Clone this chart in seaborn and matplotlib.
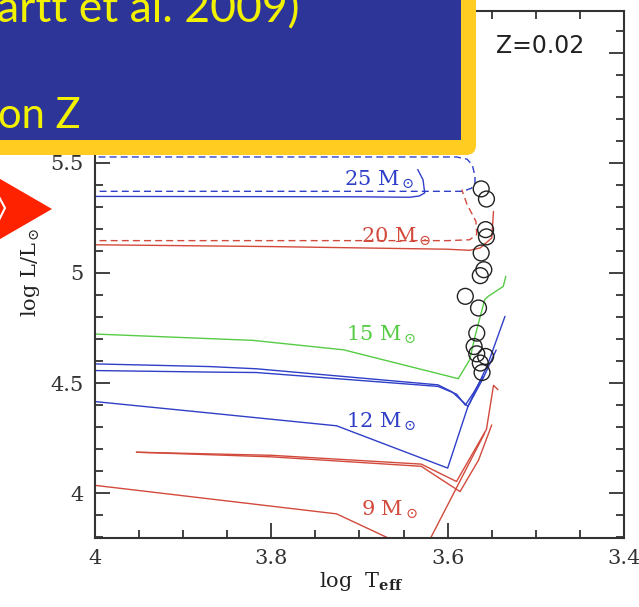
import numpy as np
import pandas as pd
import matplotlib
matplotlib.use("Agg")
import matplotlib.pyplot as plt
import matplotlib.transforms as mtransforms
import seaborn as sns
from matplotlib.patches import FancyBboxPatch, Polygon, Rectangle
from matplotlib.lines import Line2D
from matplotlib.ticker import MultipleLocator, FixedLocator

sns.set_style("ticks")
plt.rcParams['font.family'] = ['DejaVu Serif']
plt.rcParams['mathtext.fontset'] = 'dejavuserif'

# ---------------- data ----------------
# 25 Msun, rotating (dashed) and non-rotating (solid)
m25_dash_x = [4.02, 3.60, 3.583, 3.573, 3.569, 3.569, 3.572, 3.578, 3.590, 4.02]
m25_dash_y = [5.371, 5.371, 5.371, 5.385, 5.41, 5.44, 5.49, 5.517, 5.527, 5.527]
m25_solid_x = [4.02, 3.70, 3.643, 3.632, 3.626, 3.628, 3.634]
m25_solid_y = [5.348, 5.346, 5.344, 5.350, 5.364, 5.424, 5.470]
# 20 Msun
m20_dash_x = [4.02, 3.60, 3.575, 3.567, 3.568, 3.571, 3.578, 3.584]
m20_dash_y = [5.147, 5.147, 5.151, 5.175, 5.235, 5.258, 5.311, 5.379]
m20_solid_x = [4.02, 3.80, 3.60, 3.575, 3.563, 3.550, 3.548]
m20_solid_y = [5.129, 5.120, 5.108, 5.103, 5.114, 5.159, 5.280]
# 15 Msun
m15_x = [4.02, 3.821, 3.718, 3.588, 3.575, 3.569, 3.558, 3.554, 3.537, 3.534]
m15_y = [4.726, 4.694, 4.651, 4.520, 4.606, 4.712, 4.879, 4.894, 4.939, 4.985]
# 12 Msun family
m12a_x = [4.02, 3.87, 3.817, 3.611, 3.595, 3.577, 3.555, 3.535]
m12a_y = [4.589, 4.575, 4.565, 4.492, 4.460, 4.394, 4.580, 4.803]
m12b_x = [4.02, 3.87, 3.817, 3.611, 3.590, 3.580, 3.570, 3.560]
m12b_y = [4.558, 4.550, 4.548, 4.485, 4.450, 4.400, 4.460, 4.530]
m12c_x = [4.02, 3.87, 3.726, 3.600, 3.577, 3.560, 3.545]
m12c_y = [4.424, 4.364, 4.306, 4.114, 4.394, 4.520, 4.650]
# 9 Msun family
m9a_x = [3.953, 3.80, 3.630, 3.590, 3.556, 3.548, 3.543]
m9a_y = [4.186, 4.172, 4.132, 4.053, 4.290, 4.490, 4.470]
m9b_x = [3.953, 3.80, 3.630, 3.586, 3.565, 3.550]
m9b_y = [4.186, 4.165, 4.122, 4.007, 4.150, 4.310]
m9c_x = [4.02, 3.87, 3.726, 3.648, 3.624, 3.558]
m9c_y = [4.045, 3.974, 3.906, 3.760, 3.760, 4.273]

# observed red supergiants (open circles)
rsg_x = [3.562, 3.556, 3.557, 3.556, 3.562, 3.559, 3.563, 3.580, 3.565,
         3.567, 3.570, 3.567, 3.557, 3.563, 3.561]
rsg_y = [5.382, 5.336, 5.197, 5.164, 5.091, 5.015, 4.988, 4.894, 4.841,
         4.727, 4.666, 4.633, 4.621, 4.591, 4.548]

# track labels
label_text = ["25 M$_\\odot$", "20 M$_\\odot$", "15 M$_\\odot$", "12 M$_\\odot$", "9 M$_\\odot$"]
label_x = [3.678, 3.659, 3.676, 3.676, 3.666]
label_y = [5.424, 5.166, 4.720, 4.322, 3.922]

xticks = [4.0, 3.8, 3.6, 3.4]
xtick_labels = ["4", "3.8", "3.6", "3.4"]
yticks = [4.0, 4.5, 5.0, 5.5, 6.0]
ytick_labels = ["4", "4.5", "5", "5.5", "6"]

BLUE = '#2f3fc8'
RED = '#d24a3c'
GREEN = '#55cc44'

# ---------------- figure ----------------
W, H = 639, 607
fig = plt.figure(figsize=(W / 100, H / 100), dpi=100)
ax = fig.add_axes([95 / W, 1 - 538.3 / H, (624 - 95) / W, (538.3 - 11) / H])


def track(x, y, color, ls='-'):
    df = pd.DataFrame({'x': x, 'y': y})
    sns.lineplot(data=df, x='x', y='y', sort=False, estimator=None,
                 color=color, linestyle=ls, lw=1.0, ax=ax)


track(m25_dash_x, m25_dash_y, BLUE, (0, (5, 3)))
track(m25_solid_x, m25_solid_y, BLUE)
track(m20_dash_x, m20_dash_y, RED, (0, (5, 3)))
track(m20_solid_x, m20_solid_y, RED)
track(m15_x, m15_y, GREEN)
track(m12a_x, m12a_y, BLUE)
track(m12b_x, m12b_y, BLUE)
track(m12c_x, m12c_y, BLUE)
track(m9a_x, m9a_y, RED)
track(m9b_x, m9b_y, RED)
track(m9c_x, m9c_y, RED)

sns.scatterplot(x=rsg_x, y=rsg_y, s=130, marker='o', ax=ax,
                color='black', linewidth=1.0, zorder=5)
ax.collections[-1].set_facecolor('none')
ax.collections[-1].set_edgecolor('#222222')

label_colors = [BLUE, RED, GREEN, BLUE, RED]
for t, x, y, c in zip(label_text, label_x, label_y, label_colors):
    ax.text(x, y, t, color=c, fontsize=15, ha='center', va='center')

ax.text(3.495, 6.029, "Z=0.02", fontsize=17, ha='center', va='center',
        family='DejaVu Sans', color='#222222')

ax.set_xlim(4.0, 3.4)
ax.set_ylim(3.795, 6.19)
ax.xaxis.set_major_locator(FixedLocator(xticks))
ax.set_xticklabels(xtick_labels)
ax.yaxis.set_major_locator(FixedLocator(yticks))
ax.set_yticklabels(ytick_labels)
ax.xaxis.set_minor_locator(MultipleLocator(0.05))
ax.yaxis.set_minor_locator(MultipleLocator(0.1))
ax.tick_params(which='both', direction='in', top=True, right=True,
               labelsize=15, colors='#333333', width=1.3)
ax.tick_params(which='major', length=11, pad=8)
ax.tick_params(which='minor', length=6)
for s in ax.spines.values():
    s.set_visible(True)
    s.set_linewidth(1.5)
    s.set_color('#333333')

ax.set_xlabel("log  T$_{\\mathbf{eff}}$", fontsize=15, color='#222222')
ax.xaxis.set_label_coords(0.503, -0.060)
ax.set_ylabel("log L/L$_\\odot$", fontsize=15, color='#222222')
ax.yaxis.set_label_coords(-0.100, 0.505)

# ---------------- slide overlay (pixel coordinates from top-left) ----------------
px = mtransforms.Affine2D().scale(1 / W, -1 / H).translate(0, 1) + fig.transFigure

outer = FancyBboxPatch((-40, -40), 476 + 40, 155 + 40,
                       boxstyle="round,pad=0,rounding_size=10",
                       transform=px, facecolor='#ffcc22', edgecolor='none', zorder=20)
fig.add_artist(outer)
inner = Rectangle((-40, -40), 461 + 40, 140 + 40, transform=px,
                  facecolor='#2e3599', edgecolor='none', zorder=21)
fig.add_artist(inner)

fig.text(-3 / W, 1 - 22 / H, "artt et al. 2009)", fontsize=32, family='Lato',
         color='#f2f200', ha='left', va='baseline', zorder=22)
fig.text(-2 / W, 1 - 128 / H, "on Z", fontsize=30, family='Lato',
         color='#f2f200', ha='left', va='baseline', zorder=22)

arrow = Polygon([(-5, 176), (52, 209), (-5, 242)], closed=True, transform=px,
                facecolor='#ff2200', edgecolor='none', zorder=20)
fig.add_artist(arrow)
chev = Line2D([-2, 5, -2], [195, 208, 222], transform=px, color='white', lw=1.5, zorder=21)
fig.add_artist(chev)

fig.savefig("out.png", dpi=100)
